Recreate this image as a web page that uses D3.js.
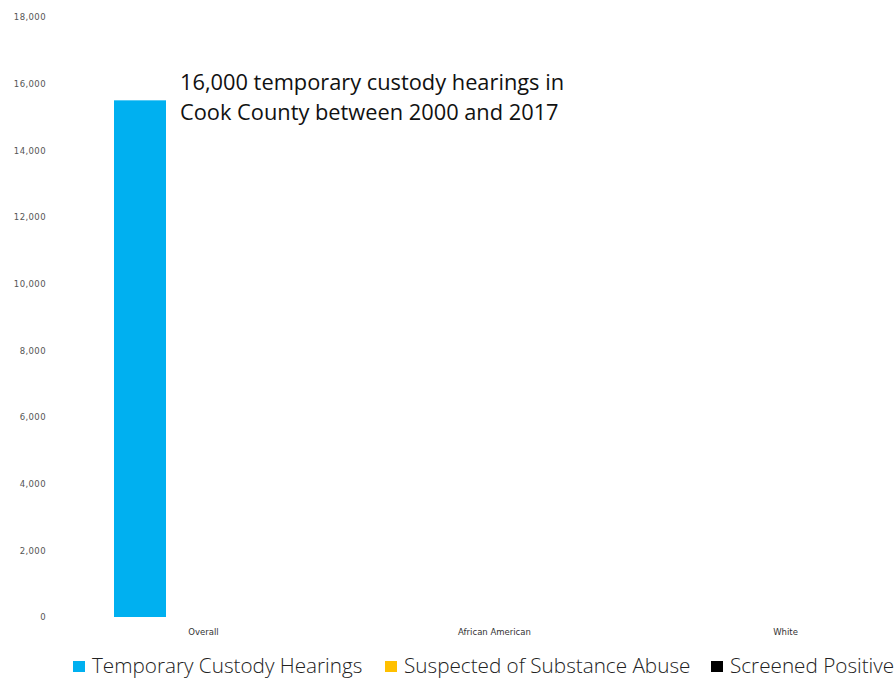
<!DOCTYPE html>
<html>
<head>
<meta charset="utf-8">
<script src="https://cdn.jsdelivr.net/npm/d3@7"></script>
<style>
  html, body { margin: 0; padding: 0; background: #fff; }
  svg { display: block; }
</style>
</head>
<body>
<svg id="chart" width="896" height="679"></svg>
<script>
// Groups along the x axis
const categories = ["Overall", "African American", "White"];
// Series names, one bar per series inside each group
const seriesNames = ["Temporary Custody Hearings", "Suspected of Substance Abuse", "Screened Positive"];
// Values per series, aligned with categories
const custodyHearings = [15500, 0, 0];
const suspectedAbuse = [0, 0, 0];
const screenedPositive = [0, 0, 0];
// Y-axis ticks
const yTicks = [0, 2000, 4000, 6000, 8000, 10000, 12000, 14000, 16000, 18000];
const seriesColors = ["#00b0f0", "#ffc000", "#000000"];
const titleLines = ["16,000 temporary custody hearings in", "Cook County between 2000 and 2017"];

const seriesValues = [custodyHearings, suspectedAbuse, screenedPositive];

const svg = d3.select("#chart");
const plotTop = 17, plotBottom = 617;

const y = d3.scaleLinear().domain([0, 18000]).range([plotBottom, plotTop]);
// category bands; the last band runs past the right edge of the view
const x0 = d3.scaleBand().domain(categories).range([58, 931]).paddingInner(0).paddingOuter(0);
// bars within a group, in group-local coordinates
const x1 = d3.scaleBand().domain(seriesNames).range([56, 234]).paddingInner(11 / 63).paddingOuter(0);

// y axis labels (no line)
const yAxis = svg.append("g").attr("transform", "translate(46,0)")
  .call(d3.axisLeft(y).tickValues(yTicks).tickSize(0).tickPadding(0).tickFormat(d3.format(",")));
yAxis.select(".domain").remove();
yAxis.selectAll("text")
  .attr("font-family", "DejaVu Sans, sans-serif")
  .attr("font-size", 8.5)
  .attr("letter-spacing", 0.4)
  .attr("fill", "#555");

// bars
const groups = svg.append("g").selectAll("g").data(categories).join("g")
  .attr("transform", d => `translate(${x0(d)},0)`);
groups.selectAll("rect")
  .data((c, i) => seriesNames.map((s, j) => ({ s, v: seriesValues[j][i], color: seriesColors[j] })))
  .join("rect")
  .attr("x", d => x1(d.s))
  .attr("width", x1.bandwidth())
  .attr("y", d => y(d.v))
  .attr("height", d => y(0) - y(d.v))
  .attr("fill", d => d.color);

// category labels
const xAxis = svg.append("g").attr("transform", `translate(0,${plotBottom + 12})`)
  .call(d3.axisBottom(x0).tickSize(0).tickPadding(0));
xAxis.select(".domain").remove();
xAxis.selectAll("text")
  .attr("font-family", "DejaVu Sans, sans-serif")
  .attr("font-size", 8.5)
  .attr("fill", "#333");

// annotation
const t = svg.append("text")
  .attr("font-family", "Open Sans, sans-serif")
  .attr("font-size", 21.8)
  .attr("fill", "#111");
titleLines.forEach((line, i) => {
  t.append("tspan").attr("x", 180).attr("y", 90 + i * 30).text(line);
});

// legend
const legendX = [73, 385, 711];
const legend = svg.append("g").selectAll("g").data(seriesNames).join("g")
  .attr("transform", (d, i) => `translate(${legendX[i]},661)`);
legend.append("rect").attr("width", 12).attr("height", 11)
  .attr("fill", (d, i) => seriesColors[i]);
legend.append("text").attr("x", 19).attr("y", 12)
  .attr("font-family", "Open Sans, sans-serif")
  .attr("font-weight", 300)
  .attr("font-size", 20.7)
  .attr("fill", "#222")
  .text(d => d);
</script>
</body>
</html>
